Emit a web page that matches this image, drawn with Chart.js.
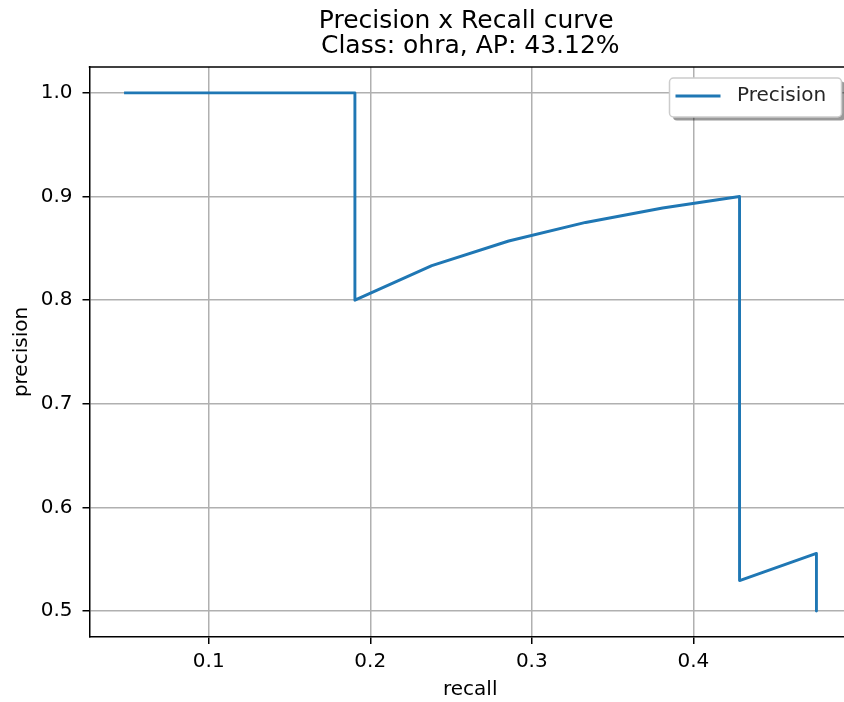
<!DOCTYPE html>
<html>
<head>
<meta charset="utf-8">
<script src="https://cdn.jsdelivr.net/npm/chart.js@4.4.1/dist/chart.umd.min.js"></script>
<style>
  html, body { margin: 0; padding: 0; background: #ffffff; overflow: hidden; }
  #wrap { width: 851px; height: 702px; }
</style>
</head>
<body>
<div id="wrap"><canvas id="c" width="851" height="702"></canvas></div>
<script>
// ---- data ----
const SERIES_LABEL = 'Precision';
const RECALL = [0.0476, 0.0952, 0.1429, 0.1905, 0.1905, 0.2381, 0.2857, 0.3333, 0.3810, 0.4286,
                0.4286, 0.4286, 0.4286, 0.4286, 0.4286, 0.4286, 0.4286, 0.4762, 0.4762, 0.4762];
const PRECISION = [1.0, 1.0, 1.0, 1.0, 0.8, 0.8333, 0.8571, 0.875, 0.8889, 0.9,
                   0.8182, 0.75, 0.6923, 0.6429, 0.6, 0.5625, 0.5294, 0.5556, 0.5263, 0.5];
const X_TICKS = [0.1, 0.2, 0.3, 0.4];
const X_TICK_LABELS = ['0.1', '0.2', '0.3', '0.4'];
const Y_TICKS = [0.5, 0.6, 0.7, 0.8, 0.9, 1.0];
const Y_TICK_LABELS = ['0.5', '0.6', '0.7', '0.8', '0.9', '1.0'];
const TITLE_LINES = ['Precision x Recall curve ', 'Class: ohra, AP: 43.12%'];
const X_TITLE = 'recall';
const Y_TITLE = 'precision';

const points = RECALL.map((r, i) => ({ x: r, y: PRECISION[i] }));
const FONT = 'DejaVu Sans';

const framePlugin = {
  id: 'frame',
  afterDraw(chart) {
    const ctx = chart.ctx, a = chart.chartArea;
    ctx.save();
    // top spine
    ctx.strokeStyle = '#000000';
    ctx.lineWidth = 1.5;
    ctx.beginPath();
    ctx.moveTo(a.left - 0.75, a.top);
    ctx.lineTo(a.right, a.top);
    ctx.stroke();
    // right spine
    ctx.beginPath();
    ctx.moveTo(a.right, a.top);
    ctx.lineTo(a.right, a.bottom);
    ctx.stroke();

    // legend
    const w = 172, h = 39;
    const L = a.right - 9.5 - w, T = a.top + 11;
    ctx.fillStyle = 'rgba(0,0,0,0.4)';
    ctx.beginPath();
    ctx.roundRect(L + 3.5, T + 3.5, w, h, 4);
    ctx.fill();
    ctx.fillStyle = '#ffffff';
    ctx.strokeStyle = '#cccccc';
    ctx.lineWidth = 1.5;
    ctx.beginPath();
    ctx.roundRect(L, T, w, h, 4);
    ctx.fill();
    ctx.stroke();
    const ds = chart.data.datasets[0];
    ctx.strokeStyle = ds.borderColor;
    ctx.lineWidth = 2.9;
    ctx.lineCap = 'butt';
    ctx.beginPath();
    ctx.moveTo(L + 6, T + 18);
    ctx.lineTo(L + 51, T + 18);
    ctx.stroke();
    ctx.fillStyle = '#262626';
    ctx.font = '20px "' + FONT + '"';
    ctx.textAlign = 'left';
    ctx.textBaseline = 'middle';
    ctx.fillText(ds.label, L + 67.5, T + 18);
    ctx.restore();
  }
};

new Chart(document.getElementById('c'), {
  type: 'line',
  data: {
    datasets: [{
      label: SERIES_LABEL,
      data: points,
      borderColor: '#1f77b4',
      backgroundColor: '#1f77b4',
      borderWidth: 2.9,
      pointRadius: 0,
      pointHoverRadius: 0,
      tension: 0,
      fill: false,
      borderJoinStyle: 'round',
      borderCapStyle: 'butt'
    }]
  },
  options: {
    responsive: false,
    animation: false,
    devicePixelRatio: 1,
    parsing: false,
    layout: { padding: 0 },
    plugins: {
      legend: { display: false },
      tooltip: { enabled: false },
      title: {
        display: true,
        text: TITLE_LINES,
        fullSize: false,
        color: '#000000',
        font: { family: FONT, size: 25, weight: 'normal', lineHeight: 1.0 },
        padding: { top: 8.5, bottom: 8.5 }
      }
    },
    scales: {
      x: {
        type: 'linear',
        min: 0.0262,
        max: 0.4976,
        afterFit: s => { s.height = 65; },
        afterBuildTicks: s => { s.ticks = X_TICKS.map(v => ({ value: v })); },
        ticks: {
          color: '#000000',
          font: { family: FONT, size: 20 },
          padding: 6,
          maxRotation: 0,
          autoSkip: false,
          callback: (v, i) => X_TICK_LABELS[i]
        },
        grid: {
          color: '#b0b0b0',
          lineWidth: 1.5,
          drawTicks: true,
          tickLength: 7,
          tickColor: '#000000',
          tickWidth: 1.5
        },
        border: { display: true, color: '#000000', width: 1.5 },
        title: {
          display: true,
          text: X_TITLE,
          color: '#000000',
          font: { family: FONT, size: 20, lineHeight: 1.2 },
          padding: { top: 0, bottom: 0 }
        }
      },
      y: {
        type: 'linear',
        min: 0.475,
        max: 1.025,
        afterFit: s => { s.width = 89.5; },
        afterBuildTicks: s => { s.ticks = Y_TICKS.map(v => ({ value: v })); },
        ticks: {
          color: '#000000',
          font: { family: FONT, size: 20 },
          padding: 10,
          autoSkip: false,
          callback: (v, i) => Y_TICK_LABELS[i]
        },
        grid: {
          color: '#b0b0b0',
          lineWidth: 1.5,
          drawTicks: true,
          tickLength: 7,
          tickColor: '#000000',
          tickWidth: 1.5
        },
        border: { display: true, color: '#000000', width: 1.5 },
        title: {
          display: true,
          text: Y_TITLE,
          color: '#000000',
          font: { family: FONT, size: 20, lineHeight: 1.2 },
          padding: { top: 10, bottom: 0 }
        }
      }
    }
  },
  plugins: [framePlugin]
});
</script>
</body>
</html>
